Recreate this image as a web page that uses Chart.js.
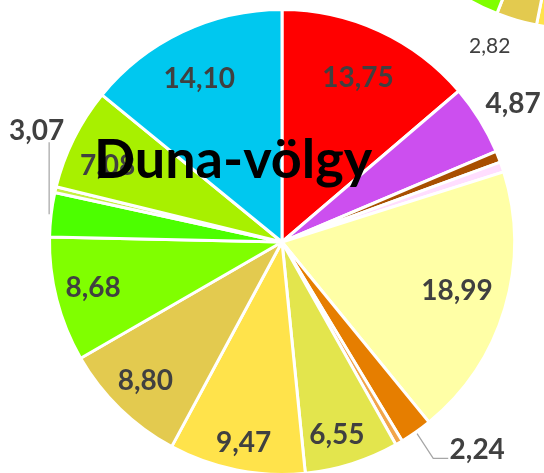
<!DOCTYPE html>
<html lang="hu">
<head>
<meta charset="utf-8">
<script src="https://cdn.jsdelivr.net/npm/chart.js@4.4.1/dist/chart.umd.min.js"></script>
<style>
  html, body { margin: 0; padding: 0; background: #fff; }
  body { width: 544px; height: 473px; position: relative; overflow: hidden; }
  canvas { position: absolute; }
  #main { left: 0; top: 0; }
  #next { left: 348px; top: -437px; }
  #title { position: absolute; left: 94px; top: 131px; font: 700 54px/54px Lato, sans-serif;
           color: #000; white-space: nowrap; }
</style>
</head>
<body>
<canvas id="next" width="468" height="910"></canvas>
<canvas id="main" width="544" height="476"></canvas>
<div id="title">Duna-völgy</div>
<script>
// Duna-völgy kördiagram — Chart.js v4, értékcímkék saját pluginnal
const $ = (s, r=document) => r.querySelector(s);

const CATEGORIES = ['kat. 1','kat. 2','kat. 3','kat. 4','kat. 5','kat. 6','kat. 7','kat. 8',
                    'kat. 9','kat. 10','kat. 11','kat. 12','kat. 13','kat. 14','kat. 15'];
const SHARES = [13.75, 4.87, 0.80, 0.70, 18.99, 2.24, 0.50, 6.55, 9.47, 8.80, 8.68, 3.07, 0.40, 7.08, 14.10];
const COLORS = ['#ff0000','#cc4fef','#a84f00','#ffdeff','#ffffa6','#e67e00','#f2a54a','#e3e54d',
                '#ffe34b','#e3ca4f','#80ff00','#4cff00','#c4f040','#a8f000','#00c8ef'];

// a szomszédos diagramból csak az alja lóg be
const NEXT_CATEGORIES = ['kat. 9','kat. 10','kat. 11','többi'];
const NEXT_SHARES = [8.00, 2.82, 9.00, 80.18];
const NEXT_COLORS = ['#ffe34b','#e3ca4f','#80ff00','rgba(0,0,0,0)'];

// címkék helye: r = sugár szorzó, turn = elforgatás fokban, leader = vezetővonal
const MAIN_SPOTS = {
  0:  { r: 0.78 },
  1:  { r: 1.16, turn: 0.7 },
  4:  { r: 0.78, turn: -1.3 },
  5:  { r: 1.225, turn: -8.1, leader: 'elbow' },
  7:  { r: 0.86, turn: 1.6 },
  8:  { r: 0.875, turn: -0.4 },
  9:  { r: 0.835, turn: 0.6 },
  10: { r: 0.835, turn: 0.9 },
  11: { r: 1.16, turn: 17.7, leader: 'up' },
  13: { r: 0.82, turn: -2.6 },
  14: { r: 0.79, turn: -1.4 },
};
const NEXT_SPOTS = { 1: { r: 1.14, turn: 4 } };

const fmt = v => v.toFixed(2).replace('.', ',');

const valueLabels = {
  id: 'valueLabels',
  afterDatasetsDraw(chart, args, opts) {
    const { ctx } = chart;
    const arcs = chart.getDatasetMeta(0).data;
    const data = chart.data.datasets[0].data;
    ctx.save();
    ctx.font = opts.font;
    ctx.fillStyle = '#404040';
    ctx.textAlign = 'center';
    ctx.textBaseline = 'alphabetic';
    ctx.strokeStyle = '#a6a6a6';
    ctx.lineWidth = 1.25;
    for (const [i, s] of Object.entries(opts.spots)) {
      const a = arcs[i];
      const mid = (a.startAngle + a.endAngle) / 2;
      const ang = mid + (s.turn || 0) * Math.PI / 180;
      const lx = a.x + Math.cos(ang) * a.outerRadius * s.r;
      const ly = a.y + Math.sin(ang) * a.outerRadius * s.r;
      if (s.leader) {
        const ex = a.x + Math.cos(mid) * (a.outerRadius + 2);
        const ey = a.y + Math.sin(mid) * (a.outerRadius + 2);
        ctx.beginPath();
        ctx.moveTo(ex, ey);
        if (s.leader === 'up') ctx.lineTo(ex, ly + 12);
        else { ctx.lineTo(lx - 44, ly + 9); ctx.lineTo(lx - 29, ly + 9); }
        ctx.stroke();
      }
      ctx.fillText(fmt(data[i]), lx, ly + opts.lift);
    }
    ctx.restore();
  }
};

function pie(el, labels, values, colors, rotation, padding, labelOpts) {
  return new Chart(el, {
    type: 'pie',
    data: { labels, datasets: [{ data: values, backgroundColor: colors, borderColor: '#fff', borderWidth: 3 }] },
    options: {
      responsive: false,
      animation: false,
      rotation,
      layout: { padding },
      plugins: { legend: { display: false }, tooltip: { enabled: false }, valueLabels: labelOpts }
    },
    plugins: [valueLabels]
  });
}

Promise.all([document.fonts.load('bold 28px Lato'), document.fonts.load('21px Lato')]).finally(() => {
  pie($('#main'), CATEGORIES, SHARES, COLORS, 0,
      { left: 48, right: 28, top: 8, bottom: 0 },
      { font: 'bold 28px Lato', lift: 10, spots: MAIN_SPOTS });
  pie($('#next'), NEXT_CATEGORIES, NEXT_SHARES, NEXT_COLORS, 162.5,
      { left: 0, right: 0, top: 0, bottom: 442 },
      { font: '21px Lato', lift: 7.5, spots: NEXT_SPOTS });
});
</script>
</body>
</html>
